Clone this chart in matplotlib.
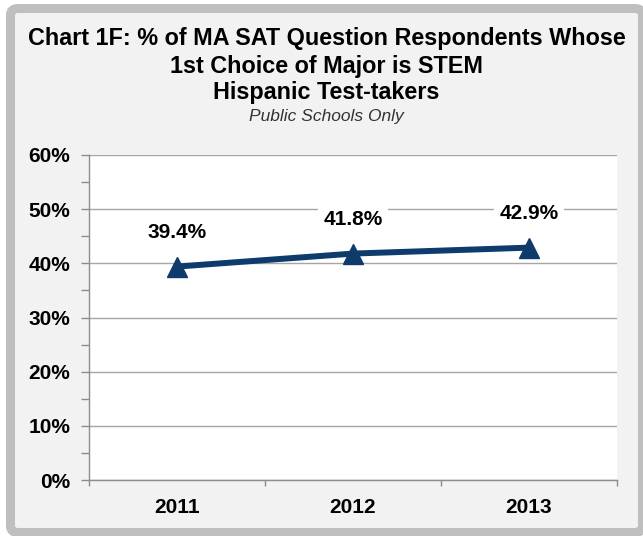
import matplotlib
matplotlib.use("Agg")
import matplotlib.pyplot as plt
from matplotlib.patches import FancyBboxPatch
from matplotlib.ticker import FixedLocator, PercentFormatter

years = ["2011", "2012", "2013"]
stem_share = [39.4, 41.8, 42.9]
point_labels = ["39.4%", "41.8%", "42.9%"]

title_lines = ["Chart 1F: % of MA SAT Question Respondents Whose",
               "1st Choice of Major is STEM",
               "Hispanic Test-takers"]
subtitle = "Public Schools Only"

W, H = 643, 536
plt.rcParams['font.family'] = ['Liberation Sans', 'DejaVu Sans']

fig = plt.figure(figsize=(W / 100, H / 100), dpi=100, facecolor="white")

# grey rounded frame around the chart
frame = FancyBboxPatch((10.5 / W, 1 - 532.5 / H), (642.5 - 10.5) / W, (532.5 - 8.5) / H,
                       boxstyle="round,pad=0,rounding_size=0.012",
                       transform=fig.transFigure, facecolor="#F2F2F2",
                       edgecolor="#BFBFBF", linewidth=6.5, zorder=-10)
fig.patches.append(frame)

# title lines
title_y = [39, 66, 93]
for txt, y in zip(title_lines, title_y):
    fig.text(0.5 * (15 + 638) / W, 1 - y / H, txt, ha="center", va="center",
             fontsize=16.8, fontweight="bold", color="black")
fig.text(0.5 * (15 + 638) / W, 1 - 117 / H, subtitle, ha="center", va="center",
         fontsize=12.5, fontstyle="italic", color="#333333")

ax = fig.add_axes([89 / W, 56 / H, (617 - 89) / W, (480 - 155) / H])
ax.set_facecolor("white")

x = range(len(years))
ax.plot(x, stem_share, color="#0E3B6C", linewidth=4.3, marker="^",
        markersize=15, zorder=3, clip_on=False)

for xi, v, lab in zip(x, stem_share, point_labels):
    ax.annotate(lab, (xi, v), xytext=(0, 24.5), textcoords="offset points",
                ha="center", va="center", fontsize=15, fontweight="bold",
                bbox=dict(boxstyle="square,pad=0.25", facecolor="white", edgecolor="none"),
                zorder=4)

ax.set_ylim(0, 60)
ax.set_xlim(-0.5, len(years) - 0.5)

ax.yaxis.set_major_locator(FixedLocator(range(0, 61, 10)))
ax.yaxis.set_minor_locator(FixedLocator(range(5, 60, 10)))
ax.yaxis.set_major_formatter(PercentFormatter(decimals=0))
ax.grid(axis="y", which="major", color="#A6A6A6", linewidth=1)
ax.set_axisbelow(True)

ax.set_xticks([i - 0.5 for i in range(len(years) + 1)])
ax.set_xticklabels([])
ax.set_xticks(list(x), minor=True)
ax.set_xticklabels(years, minor=True)

ax.tick_params(axis="y", which="both", length=5.5, width=1, color="#8C8C8C",
               pad=8, labelsize=15)
for lab in ax.get_yticklabels():
    lab.set_fontweight("bold")
ax.tick_params(axis="x", which="major", length=4, width=1, color="#8C8C8C")
ax.tick_params(axis="x", which="minor", length=0, pad=13, labelsize=15)
for lab in ax.get_xticklabels(minor=True):
    lab.set_fontweight("bold")

for side in ["top", "right"]:
    ax.spines[side].set_visible(False)
for side in ["left", "bottom"]:
    ax.spines[side].set_color("#8C8C8C")
    ax.spines[side].set_linewidth(1)

fig.savefig("out.png", dpi=100, facecolor="white")
